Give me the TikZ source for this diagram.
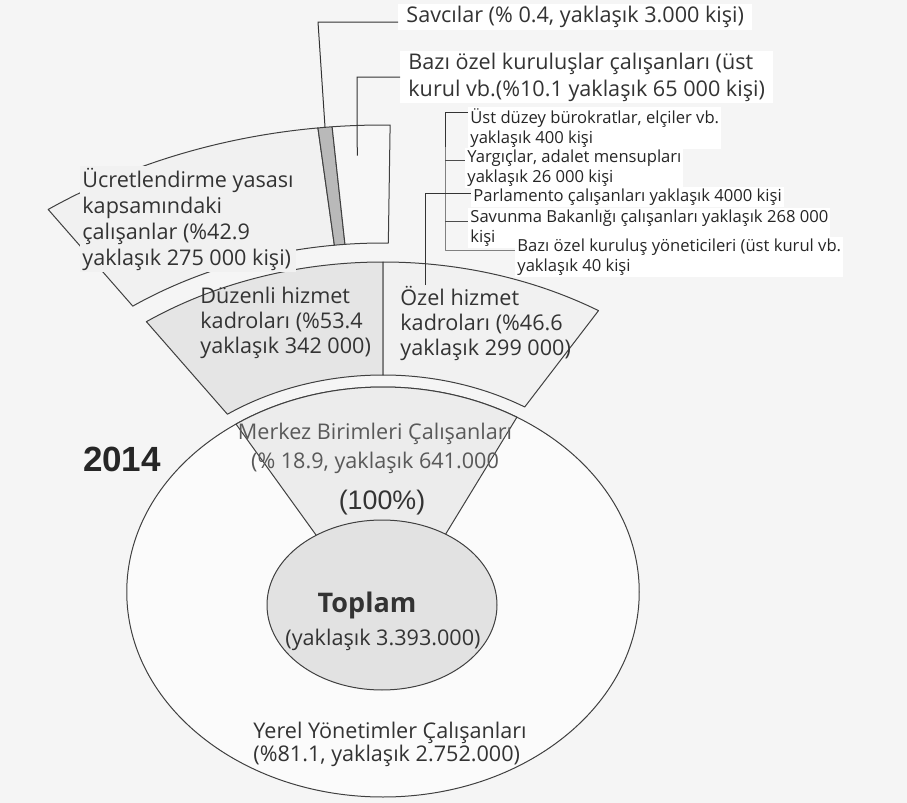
\documentclass[tikz,border=0pt]{standalone}
\usepackage{fontspec}
\setmainfont{Open Sans}
\newfontfamily\yearfont{Liberation Sans}
\usetikzlibrary{calc,positioning}
\colorlet{bgcol}{gray!8}
\colorlet{yerelcol}{gray!3}
\colorlet{toplamcol}{gray!23}
\colorlet{merkezcol}{gray!15}
\colorlet{duzenlicol}{gray!20}
\colorlet{ozelcol}{gray!11}
\colorlet{ucretcol}{gray!11}
\colorlet{savcol}{gray!55}
\colorlet{kurulcol}{gray!6}
\newcommand \ringpart[5][]
{
\filldraw[#1] (#2:#4) arc[start angle=#2, end angle=#3, radius=#4]
  -- (#3:#5) arc[start angle=#3, end angle=#2, radius=#5] -- cycle;
}
\tikzset{
  edge line/.style={draw=black!75, line width=0.5pt},
  lbl/.style={font=\fontsize{10.8}{13}\selectfont, text=black!80, align=left, inner sep=1pt},
  sublbl/.style={font=\fontsize{8.3}{10}\selectfont, text=black!85, align=left, inner sep=1pt, fill=white, anchor=west},
  leader/.style={draw=black!80, line width=0.5pt}
}

\begin{document}
\begin{tikzpicture}[x=0.5pt, y=0.5pt, line join=round]
\useasboundingbox (0,0) rectangle (907,-803);
\clip (0,0) rectangle (907,-803);
\fill[bgcol] (0,0) rectangle (907,-803);
\coordinate (C) at (383,-592);

% rings round the centre
\begin{scope}[shift={(C)}, xscale=1.25, edge line]
\filldraw[fill=yerelcol] (0,0) circle[radius=205];
\filldraw[fill=merkezcol] (2.4,-40) -- (125:205) arc[start angle=125, end angle=58.5, radius=205] -- cycle;
\ringpart[fill=duzenlicol]{90}{125}{217}{330}
\ringpart[fill=ozelcol]{58.5}{90}{217}{330}
\ringpart[fill=ucretcol]{96.4}{125}{349}{467}
\ringpart[fill=savcol]{95}{96.4}{349}{467}
\ringpart[fill=kurulcol]{89.3}{95}{349}{467}
\coordinate (s1) at (95:467);
\coordinate (s2) at (96.4:467);
\coordinate (kurulT) at (92.7:437);
\end{scope}
\filldraw[edge line, fill=toplamcol] (382,-605) ellipse[x radius=115, y radius=85];

% labels on the rings
\node[lbl, anchor=west, fill=ucretcol] (ucret) at (80,-219) {Ücretlendirme yasası\\kapsamındaki\\çalışanlar (\%42.9\\yaklaşık 275 000 kişi)};
\node[lbl, anchor=west, font=\fontsize{10.8}{12.5}\selectfont] (duzenli) at (198,-323) {Düzenli hizmet\\kadroları (\%53.4\\yaklaşık 342 000)};
\node[lbl, anchor=west, font=\fontsize{10.8}{12.5}\selectfont] (ozel) at (398,-323) {Özel hizmet\\kadroları (\%46.6\\yaklaşık 299 000)};
\node[lbl, align=center, text=black!65, font=\fontsize{10.8}{14.5}\selectfont] (merkez) at (375,-448) {Merkez Birimleri Çalışanları\\(\% 18.9, yaklaşık 641.000};
\node[font=\yearfont\fontsize{13.4}{16}\selectfont, text=black!80] (yuzde) at (382,-503) {(100\%)};
\node[font=\bfseries\fontsize{13.5}{16}\selectfont, text=black!80] (toplam) at (367,-605) {Toplam};
\node[lbl] (toplamval) at (383,-640) {(yaklaşık 3.393.000)};
\node[lbl, anchor=west, font=\fontsize{10.8}{11.5}\selectfont] (yerel) at (251,-744) {Yerel Yönetimler Çalışanları\\(\%81.1, yaklaşık 2.752.000)};
\node[font=\yearfont\bfseries\fontsize{17.5}{20}\selectfont, text=black!85] (yil) at (122,-459) {2014};

% labels at the top right
\node[lbl, anchor=west, fill=white, inner xsep=4pt] (sav) at (398,-17) {Savcılar (\% 0.4, yaklaşık 3.000 kişi)};
\node[lbl, anchor=west, fill=white, inner xsep=4pt, font=\fontsize{10.8}{13.5}\selectfont] (kurul) at (400,-77) {Bazı özel kuruluşlar çalışanları (üst\\kurul vb.(\%10.1 yaklaşık 65 000 kişi)};
\node[sublbl] (ust) at (468,-128) {Üst düzey bürokratlar, elçiler vb.\\yaklaşık 400 kişi};
\node[sublbl] (yarg) at (465,-168) {Yargıçlar, adalet mensupları\\yaklaşık 26 000 kişi};
\node[sublbl] (parl) at (471,-197) {Parlamento çalışanları yaklaşık 4000 kişi};
\node[sublbl] (savun) at (468,-228) {Savunma Bakanlığı çalışanları yaklaşık 268 000\\kişi};
\node[sublbl] (yonet) at (515,-257) {Bazı özel kuruluş yöneticileri (üst kurul vb.\\yaklaşık 40 kişi};

% leaders
\coordinate (savT) at ($(s1)!0.5!(s2)$);
\coordinate (savK) at (318,-22);
\draw[leader] (savT) -- (savK) -- (savK -| sav.west);
\coordinate (kurulK) at (357,-77);
\draw[leader] (kurulT) -- (kurulK) -- (kurul.west);
\coordinate (brTop) at (445,-112);
\coordinate (brMid) at (445,-147);
\coordinate (brBot) at (445,-250);
\coordinate (tkY) at (445,-160);
\coordinate (tkS) at (445,-221);
\draw[leader] (ust.west |- brTop) -- (brTop) -- (brMid);
\draw[leader, draw=gray] (brMid) -- (brBot) -- (brBot -| yonet.west);
\draw[leader, draw=gray!60!black] (tkY) -- (tkY -| yarg.west);
\draw[leader, draw=gray!60!black] (tkS) -- (tkS -| savun.west);
\coordinate (ozelT) at (425,-285);
\coordinate (parlK) at (425,-193);
\draw[leader] (ozelT) -- (parlK) -- (parlK -| parl.west);
\end{tikzpicture}
\end{document}
